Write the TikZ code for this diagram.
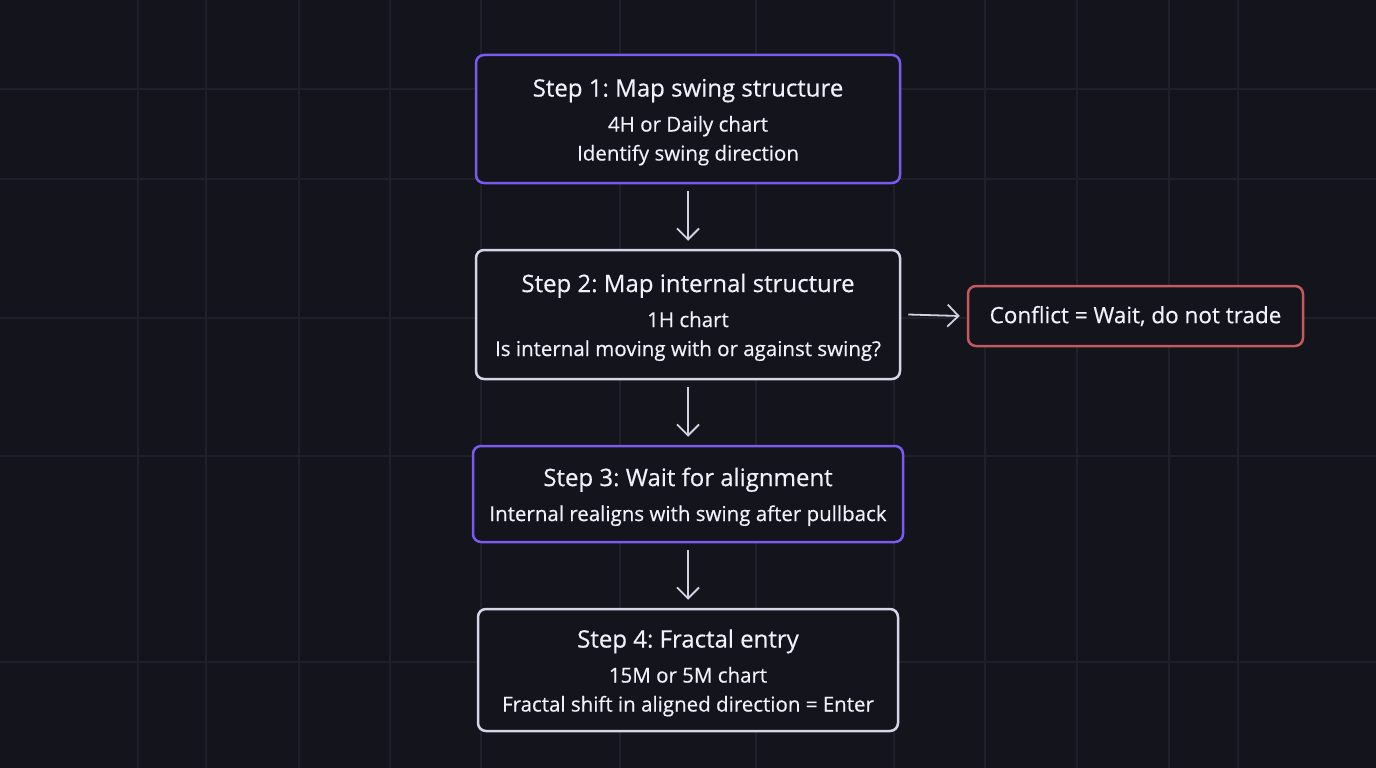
\documentclass[tikz,border=0pt]{standalone}
\usepackage{fontspec}
\setmainfont{Open Sans}[FakeBold=0.5]
\usetikzlibrary{arrows.meta}
\frenchspacing

\definecolor{bgColor}{HTML}{13141C}
\definecolor{gridColor}{HTML}{1F2029}
\definecolor{stepPurple}{HTML}{7A5AF0}
\definecolor{stepLight}{HTML}{D8D4E8}
\definecolor{stopRed}{HTML}{C45A5E}
\definecolor{textColor}{HTML}{F2F0FA}
\definecolor{arrowColor}{HTML}{D4D0E4}

\tikzset{
    stepbox/.style={draw, rounded corners=8pt, line width=2.5pt, fill=bgColor,
        text=textColor, align=center, font=\fontsize{20.5}{29}\selectfont,
        inner sep=0pt},
    accentbox/.style={stepbox, draw=stepPurple},
    plainbox/.style={stepbox, draw=stepLight},
    stopbox/.style={stepbox, draw=stopRed, font=\fontsize{22.5}{26}\selectfont},
    flow/.style={draw=arrowColor, line width=1.8pt,
        -{Straight Barb[length=11pt,width=22pt,line width=1.8pt]}}
}

\newcommand{\steptitle}[1]{{\fontsize{24}{29}\selectfont\rule{0pt}{24pt}#1}\\[6pt]}

\begin{document}
\begin{tikzpicture}[x=1pt,y=-1pt]

    % Define parameters
    \def\picW{1376}
    \def\picH{768}

    % background and grid
    \fill[bgColor] (0,0) rectangle (\picW,\picH);
    \useasboundingbox (0,0) rectangle (\picW,\picH);
    \foreach \gx in {138,206,299,390,481,620,756,894,985,1077,1169,1238}
        \draw[gridColor, line width=2pt] (\gx,0) -- (\gx,\picH);
    \foreach \gy in {89,179,318,456,662}
        \draw[gridColor, line width=2pt] (0,\gy) -- (\picW,\gy);

    % steps
    \node[accentbox, minimum width=424pt, minimum height=128pt] (swing) at (688,119)
        {\steptitle{Step 1: Map swing structure}4H or Daily chart\\Identify swing direction};
    \node[plainbox, minimum width=424pt, minimum height=129pt] (internal) at (688,314.5)
        {\steptitle{Step 2: Map internal structure}1H chart\\Is internal moving with or against swing?};
    \node[accentbox, minimum width=430pt, minimum height=96pt] (align) at (688,494)
        {\steptitle{Step 3: Wait for alignment}Internal realigns with swing after pullback};
    \node[plainbox, minimum width=420pt, minimum height=122pt] (entry) at (688,670)
        {\steptitle{Step 4: Fractal entry}15M or 5M chart\\Fractal shift in aligned direction = Enter};
    \node[stopbox, minimum width=335pt, minimum height=60pt] (conflict) at (1135.5,316)
        {Conflict = Wait, do not trade};

    % arrows
    \draw[flow] ([yshift=-7pt]swing.south) -- ([yshift=8pt]internal.north);
    \draw[flow] ([yshift=-7pt]internal.south) -- ([yshift=8pt]align.north);
    \draw[flow] ([yshift=-7pt]align.south) -- ([yshift=8pt]entry.north);
    \draw[flow] ([xshift=7pt]internal.east) -- ([xshift=-7pt]conflict.west);

\end{tikzpicture}
\end{document}
